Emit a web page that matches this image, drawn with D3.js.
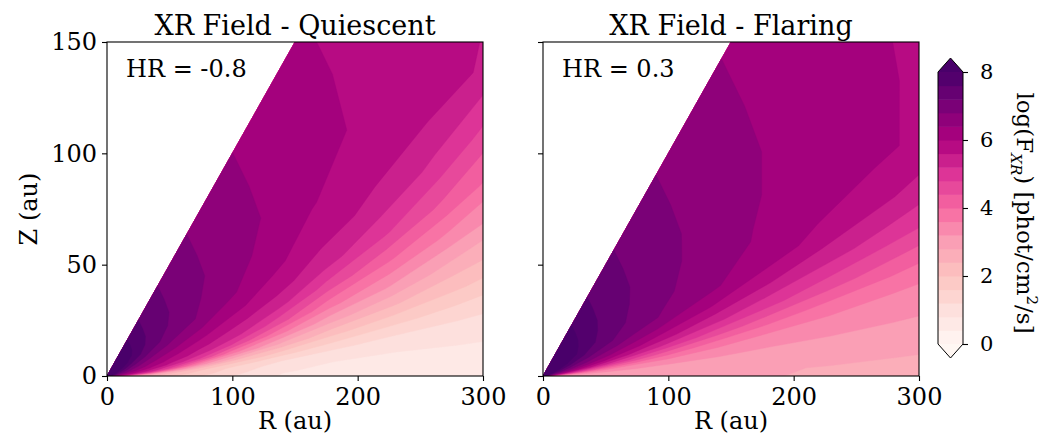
<!DOCTYPE html>
<html>
<head>
<meta charset="utf-8">
<script src="https://cdn.jsdelivr.net/npm/d3@7"></script>
<style>
  body { margin: 0; background: #fff; }
  svg { font-family: "DejaVu Serif", serif; }
</style>
</head>
<body>
<div id="chart"></div>
<script>
// Sample grid: distance from the star (au) and elevation above the midplane (deg)
const distances = [0, 5, 10, 20, 35, 50, 75, 100, 140, 180, 230, 280, 340];
const angles = [0, 1, 2, 3, 4, 6, 8, 10, 13, 16, 20, 25, 30, 37, 45];

// log(F_XR), one row per angle, one column per distance
const quiescentField = [
  [10.5, 3.00, 2.80, 2.60, 2.40, 2.00, 1.60, 1.20, 0.75, 0.65, 0.60, 0.55, 0.50],
  [10.5, 6.11, 5.31, 3.60, 2.80, 2.30, 1.80, 1.35, 0.85, 0.70, 0.62, 0.58, 0.56],
  [10.5, 6.75, 6.11, 5.31, 3.70, 2.70, 2.00, 1.50, 1.00, 0.80, 0.72, 0.70, 0.68],
  [10.5, 7.16, 6.50, 5.79, 5.03, 3.73, 2.50, 1.85, 1.25, 0.95, 0.84, 0.82, 0.78],
  [10.5, 7.42, 6.76, 6.11, 5.47, 4.74, 3.35, 2.45, 1.70, 1.30, 1.02, 0.92, 0.88],
  [10.5, 7.80, 7.17, 6.50, 5.97, 5.53, 4.77, 3.75, 2.75, 2.10, 1.70, 1.45, 1.25],
  [10.5, 8.09, 7.43, 6.77, 6.26, 5.89, 5.40, 4.79, 3.70, 2.95, 2.45, 2.05, 1.72],
  [10.5, 8.33, 7.66, 6.99, 6.48, 6.13, 5.70, 5.38, 4.55, 3.70, 3.15, 2.60, 2.20],
  [10.5, 8.64, 7.92, 7.30, 6.80, 6.50, 6.10, 5.75, 5.35, 4.65, 4.05, 3.50, 2.95],
  [10.5, 8.81, 8.14, 7.60, 7.10, 6.80, 6.45, 6.15, 5.75, 5.35, 4.85, 4.30, 3.68],
  [10.5, 9.05, 8.42, 7.85, 7.40, 7.10, 6.80, 6.50, 6.10, 5.75, 5.50, 5.10, 4.50],
  [10.5, 9.30, 8.69, 8.05, 7.55, 7.25, 6.88, 6.62, 6.30, 6.02, 5.80, 5.72, 5.55],
  [10.5, 9.30, 8.70, 8.10, 7.61, 7.30, 6.95, 6.70, 6.41, 6.18, 5.96, 5.81, 5.64],
  [10.5, 9.30, 8.70, 8.10, 7.61, 7.30, 6.95, 6.70, 6.41, 6.19, 5.98, 5.81, 5.64],
  [10.5, 9.30, 8.70, 8.10, 7.61, 7.30, 6.95, 6.70, 6.41, 6.19, 5.98, 5.81, 5.64]
];
const flaringField = [
  [10.8, 3.30, 3.10, 3.00, 2.95, 2.92, 2.88, 2.85, 2.83, 2.81, 2.77, 2.74, 2.72],
  [10.8, 3.56, 3.22, 3.07, 2.98, 2.94, 2.90, 2.87, 2.85, 2.83, 2.78, 2.76, 2.74],
  [10.8, 5.36, 4.37, 3.56, 3.28, 3.16, 3.08, 3.03, 2.98, 2.95, 2.90, 2.82, 2.79],
  [10.8, 6.34, 5.51, 4.55, 3.78, 3.50, 3.30, 3.19, 3.11, 3.07, 3.03, 3.00, 2.97],
  [10.8, 6.87, 6.21, 5.36, 4.58, 4.02, 3.60, 3.44, 3.28, 3.18, 3.13, 3.09, 3.06],
  [10.8, 7.50, 6.96, 6.35, 5.69, 5.24, 4.66, 4.22, 3.79, 3.57, 3.43, 3.33, 3.25],
  [10.8, 7.94, 7.41, 6.88, 6.38, 5.99, 5.47, 5.10, 4.60, 4.21, 3.88, 3.68, 3.54],
  [10.8, 8.27, 7.76, 7.24, 6.81, 6.47, 6.05, 5.69, 5.26, 4.91, 4.54, 4.24, 3.96],
  [10.8, 8.67, 8.17, 7.66, 7.24, 6.95, 6.61, 6.33, 5.97, 5.64, 5.33, 5.07, 4.80],
  [10.8, 8.91, 8.53, 8.00, 7.58, 7.30, 6.98, 6.76, 6.45, 6.18, 5.90, 5.65, 5.40],
  [10.8, 9.20, 8.75, 8.28, 7.80, 7.48, 7.13, 6.88, 6.60, 6.38, 6.20, 6.06, 5.90],
  [10.8, 9.56, 8.96, 8.36, 7.87, 7.56, 7.21, 6.96, 6.67, 6.45, 6.25, 6.09, 5.93],
  [10.8, 9.60, 9.00, 8.40, 7.91, 7.60, 7.25, 7.00, 6.71, 6.49, 6.28, 6.11, 5.94],
  [10.8, 9.60, 9.00, 8.40, 7.91, 7.60, 7.25, 7.00, 6.71, 6.49, 6.28, 6.11, 5.94],
  [10.8, 9.60, 9.00, 8.40, 7.91, 7.60, 7.25, 7.00, 6.71, 6.49, 6.28, 6.11, 5.94]
];

const panelTitles = ["XR Field - Quiescent", "XR Field - Flaring"];
const hardnessLabels = ["HR = -0.8", "HR = 0.3"];
const xTicks = [0, 100, 200, 300];
const yTicks = [0, 50, 100, 150];
const levels = d3.range(21).map(i => +(i * 0.4).toFixed(1));
const colorbarTicks = [0, 2, 4, 6, 8];

const width = 1040, height = 440;
const plotW = 376, plotH = 334, plotTop = 42;

const svg = d3.select("#chart").append("svg")
    .attr("width", width)
    .attr("height", height);

// matplotlib RdPu: linear through the 9 brewer colours
const cmap = d3.scaleLinear()
    .domain(d3.range(9).map(i => i / 8))
    .range(d3.schemeRdPu[9])
    .clamp(true);
const vmax = levels[levels.length - 1];
function bandColor(t) {
    if (t < levels[0]) return cmap(0);
    if (t >= vmax) return cmap(1);
    return cmap((t + 0.2) / vmax);
}

// index position of each sample (d3.contours puts sample i at i + 0.5)
const uToDist = d3.scaleLinear().domain(distances.map((d, i) => i + 0.5)).range(distances).clamp(true);
const vToAngle = d3.scaleLinear().domain(angles.map((a, i) => i + 0.5)).range(angles).clamp(true);

const thresholds = [-1].concat(levels);

function drawPanel(field, left, title, hr, showYLabels, id) {
    const x = d3.scaleLinear().domain([0, 300]).range([left, left + plotW]);
    const y = d3.scaleLinear().domain([0, 150]).range([plotTop + plotH, plotTop]);

    svg.append("clipPath").attr("id", id)
      .append("rect")
        .attr("x", x(0)).attr("y", y(150))
        .attr("width", x(300) - x(0)).attr("height", y(0) - y(150));

    // polar grid -> R, Z -> pixels
    const polar = d3.geoTransform({
        point(u, v) {
            const d = uToDist(u), a = vToAngle(v) * Math.PI / 180;
            this.stream.point(x(d * Math.cos(a)), y(d * Math.sin(a)));
        }
    });
    const path = d3.geoPath(polar);

    const contours = d3.contours()
        .size([distances.length, angles.length])
        .thresholds(thresholds)(field.flat());

    svg.append("g")
        .attr("clip-path", `url(#${id})`)
      .selectAll("path")
      .data(contours)
      .enter()
      .append("path")
        .attr("d", path)
        .attr("fill", d => bandColor(d.value))
        .attr("stroke", d => bandColor(d.value))
        .attr("stroke-width", 0.4);

    // axes
    const xAxis = svg.append("g")
        .attr("transform", `translate(0,${y(0)})`)
        .call(d3.axisBottom(x).tickValues(xTicks).tickSize(5).tickPadding(7));
    const yAxis = svg.append("g")
        .attr("transform", `translate(${x(0)},0)`)
        .call(d3.axisLeft(y).tickValues(yTicks).tickSize(5).tickPadding(5)
            .tickFormat(showYLabels ? d3.format("d") : ""));
    [xAxis, yAxis].forEach(g => {
        g.select(".domain").remove();
        g.selectAll("line").attr("stroke", "#000").attr("stroke-width", 1.1);
        g.selectAll("text").attr("fill", "#000").style("font-size", "24px")
            .style("font-family", "DejaVu Serif");
    });

    svg.append("rect")
        .attr("x", x(0)).attr("y", y(150))
        .attr("width", x(300) - x(0)).attr("height", y(0) - y(150))
        .attr("fill", "none")
        .attr("stroke", "#000")
        .attr("stroke-width", 1.1);

    svg.append("text")
        .attr("x", (x(0) + x(300)) / 2).attr("y", 35)
        .attr("text-anchor", "middle")
        .style("font-size", "27px")
        .text(title);

    svg.append("text")
        .attr("x", x(0) + 19).attr("y", 77)
        .style("font-size", "24px")
        .text(hr);

    svg.append("text")
        .attr("x", (x(0) + x(300)) / 2).attr("y", 429)
        .attr("text-anchor", "middle")
        .style("font-size", "24px")
        .text("R (au)");
}

drawPanel(quiescentField, 107, panelTitles[0], hardnessLabels[0], true, "clipQ");
drawPanel(flaringField, 543, panelTitles[1], hardnessLabels[1], false, "clipF");

svg.append("text")
    .attr("transform", "translate(37,209) rotate(-90)")
    .attr("text-anchor", "middle")
    .style("font-size", "24px")
    .text("Z (au)");

// Colorbar with extensions at both ends
const cbX = 938, cbW = 25, tri = 14;
const cb = d3.scaleLinear().domain([0, vmax]).range([344, 72]);
const cbg = svg.append("g");
cbg.selectAll("rect")
    .data(levels.slice(0, -1))
    .enter()
    .append("rect")
    .attr("x", cbX)
    .attr("y", d => cb(d + 0.4))
    .attr("width", cbW)
    .attr("height", d => cb(d) - cb(d + 0.4) + 0.5)
    .attr("fill", d => bandColor(d));
cbg.append("path")
    .attr("d", `M${cbX},${cb(vmax)}L${cbX + cbW / 2},${cb(vmax) - tri}L${cbX + cbW},${cb(vmax)}Z`)
    .attr("fill", bandColor(vmax));
cbg.append("path")
    .attr("d", `M${cbX},${cb(0)}L${cbX + cbW / 2},${cb(0) + tri}L${cbX + cbW},${cb(0)}Z`)
    .attr("fill", bandColor(-1));
cbg.append("path")
    .attr("d", `M${cbX},${cb(vmax)}L${cbX + cbW / 2},${cb(vmax) - tri}L${cbX + cbW},${cb(vmax)}` +
               `L${cbX + cbW},${cb(0)}L${cbX + cbW / 2},${cb(0) + tri}L${cbX},${cb(0)}Z`)
    .attr("fill", "none")
    .attr("stroke", "#000")
    .attr("stroke-width", 1);

const cbAxis = svg.append("g")
    .attr("transform", `translate(${cbX + cbW},0)`)
    .call(d3.axisRight(cb).tickValues(colorbarTicks).tickSize(5).tickPadding(12).tickFormat(d3.format("d")));
cbAxis.select(".domain").remove();
cbAxis.selectAll("line").attr("stroke", "#000").attr("stroke-width", 1.1);
cbAxis.selectAll("text").attr("fill", "#000").style("font-size", "21px").style("font-family", "DejaVu Serif");

const cbLabel = svg.append("text")
    .attr("transform", "translate(1017,213) rotate(90)")
    .attr("text-anchor", "middle")
    .style("font-size", "23px");
cbLabel.append("tspan").text("log(F");
cbLabel.append("tspan").attr("dy", 6).style("font-size", "15px").style("font-style", "italic").text("XR");
cbLabel.append("tspan").attr("dy", -6).text(") [phot/cm");
cbLabel.append("tspan").attr("dy", -10).style("font-size", "15px").text("2");
cbLabel.append("tspan").attr("dy", 10).text("/s]");
</script>
</body>
</html>
